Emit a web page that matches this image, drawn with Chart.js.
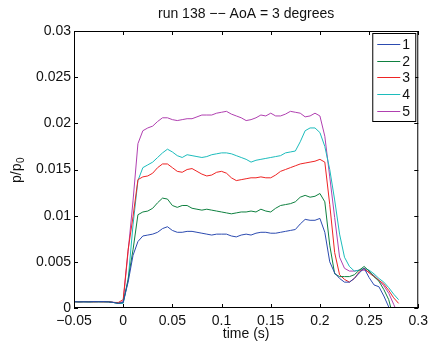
<!DOCTYPE html>
<html>
<head>
<meta charset="utf-8">
<script src="https://cdn.jsdelivr.net/npm/chart.js@4"></script>
<style>
  html, body { margin: 0; padding: 0; background: #fff; }
  #wrap { width: 433px; height: 347px; position: relative; }
</style>
</head>
<body>
<div id="wrap"><canvas id="chart"></canvas></div>
<script>
const times = [
  -0.05, -0.045, -0.04, -0.035, -0.03, -0.025, -0.02, -0.015, -0.01, -0.005,
  0, 0.005, 0.01,
  0.015, 0.02, 0.025, 0.03, 0.035, 0.04, 0.045, 0.05, 0.055, 0.06,
  0.065, 0.07, 0.075, 0.08, 0.085, 0.09, 0.095, 0.1, 0.105, 0.11,
  0.115, 0.12, 0.125, 0.13, 0.135, 0.14, 0.145, 0.15, 0.155, 0.16,
  0.165, 0.17, 0.175, 0.18, 0.185, 0.19, 0.195, 0.2,
  0.205, 0.21, 0.215, 0.22, 0.225, 0.23, 0.235, 0.24, 0.245, 0.25,
  0.255, 0.26, 0.265, 0.27, 0.275, 0.28
];

const s1 = [
  0.0007, 0.00066, 0.00068, 0.00066, 0.0007, 0.00068, 0.0007, 0.00066, 0.0006, 0.0005,
  0.0006, 0.0028, 0.0057,
  0.0072, 0.0078, 0.0079, 0.0080, 0.0082, 0.0086, 0.0088, 0.0084, 0.0082, 0.0082,
  0.0083, 0.0083, 0.0082, 0.0081, 0.0080, 0.0079, 0.0080, 0.0080, 0.0080, 0.0078,
  0.0077, 0.0079, 0.0080, 0.0079, 0.0081, 0.0082, 0.0082, 0.0081, 0.0081, 0.0082,
  0.0083, 0.0084, 0.0085, 0.0091, 0.0096, 0.0095, 0.0095, 0.0097,
  0.0082, 0.0050, 0.0038, 0.0032, 0.0028, 0.0028, 0.0032, 0.0038, 0.0043, 0.0033,
  0.0025, 0.0023, 0.0013, 0.0001, -0.0015, -0.003
];
const s2 = [
  0.00068, 0.00066, 0.00068, 0.00066, 0.00068, 0.00068, 0.00068, 0.00066, 0.0006, 0.0005,
  0.0006, 0.0031, 0.0063,
  0.0101, 0.0104, 0.0105, 0.0108, 0.0114, 0.0119, 0.0118, 0.0111, 0.0109, 0.0111,
  0.0111, 0.0108, 0.0107, 0.0106, 0.0107, 0.0106, 0.0105, 0.0104, 0.0103, 0.0102,
  0.0103, 0.0104, 0.0104, 0.0105, 0.0104, 0.0107, 0.0105, 0.0104, 0.0108, 0.0111,
  0.0112, 0.0113, 0.0115, 0.0120, 0.0122, 0.0120, 0.0121, 0.0124,
  0.0115, 0.0068, 0.0037, 0.0034, 0.0034, 0.0034, 0.0036, 0.0041, 0.0045, 0.0040,
  0.0034, 0.0029, 0.0020, 0.0009, -0.0012, -0.003
];
const s3 = [
  0.00068, 0.00066, 0.00068, 0.00068, 0.00066, 0.00068, 0.00066, 0.00068, 0.0006, 0.0006,
  0.0009, 0.0063, 0.0099,
  0.0139, 0.0142, 0.0143, 0.0146, 0.0152, 0.0156, 0.0156, 0.0152, 0.0148, 0.0147,
  0.0150, 0.0151, 0.0148, 0.0145, 0.0143, 0.0144, 0.0147, 0.0148, 0.0146, 0.0141,
  0.0138, 0.0139, 0.0140, 0.0141, 0.0141, 0.0142, 0.0141, 0.0141, 0.0144, 0.0148,
  0.0150, 0.0152, 0.0154, 0.0156, 0.0157, 0.0158, 0.0159, 0.0161,
  0.0158, 0.0112, 0.0060, 0.0036, 0.0031, 0.0028, 0.0032, 0.0039, 0.0043, 0.0038,
  0.0034, 0.0030, 0.0026, 0.0019, 0.0011, 0.0005
];
const s4 = [
  0.00066, 0.00066, 0.00066, 0.00066, 0.00066, 0.00066, 0.00066, 0.00066, 0.0006, 0.0005,
  0.0005, 0.0030, 0.0090,
  0.0138, 0.0152, 0.0155, 0.0158, 0.0163, 0.0168, 0.0172, 0.0169, 0.0165, 0.0163,
  0.0166, 0.0165, 0.0164, 0.0163, 0.0164, 0.0166, 0.0167, 0.0168, 0.0168, 0.0167,
  0.0165, 0.0163, 0.0161, 0.0158, 0.0160, 0.0161, 0.0162, 0.0163, 0.0164, 0.0165,
  0.0168, 0.0169, 0.0170, 0.0180, 0.0192, 0.0195, 0.0195, 0.0190,
  0.0175, 0.0150, 0.0117, 0.0080, 0.0055, 0.0045, 0.0040, 0.0041, 0.0043, 0.0041,
  0.0037, 0.0032, 0.0028, 0.0022, 0.0015, 0.0009
];
const s5 = [
  0.0007, 0.0007, 0.00068, 0.0007, 0.00068, 0.0007, 0.00068, 0.0007, 0.00062, 0.00055,
  0.0007, 0.0061, 0.0116,
  0.0178, 0.0192, 0.0195, 0.0197, 0.0202, 0.0206, 0.0206, 0.0204, 0.0203, 0.0204,
  0.0205, 0.0205, 0.0207, 0.0209, 0.0209, 0.0209, 0.0211, 0.0212, 0.0213, 0.0210,
  0.0208, 0.0206, 0.0203, 0.0204, 0.0206, 0.0209, 0.0208, 0.0211, 0.0208, 0.0208,
  0.0210, 0.0213, 0.0212, 0.0211, 0.0207, 0.0208, 0.0211, 0.0208,
  0.0186, 0.0142, 0.0098, 0.0055, 0.0043, 0.0040, 0.0040, 0.0041, 0.0041, 0.0039,
  0.0035, 0.0030, 0.0024, 0.0016, 0.0004, -0.0008
];

const seriesNames = ['1', '2', '3', '4', '5'];
const seriesColors = ['#2c4bb0', '#0f8040', '#ee2424', '#1cbcbc', '#b040b0'];

const xTickValues = [-0.05, 0, 0.05, 0.1, 0.15, 0.2, 0.25, 0.3];
const xTickLabels = ['\u22120.05', '0', '0.05', '0.1', '0.15', '0.2', '0.25', '0.3'];
const yTickValues = [0, 0.005, 0.01, 0.015, 0.02, 0.025, 0.03];
const yTickLabels = ['0', '0.005', '0.01', '0.015', '0.02', '0.025', '0.03'];

const titleText = 'run 138 \u2212\u2212 AoA = 3 degrees';
const xTitle = 'time (s)';

const FONT = '"Liberation Sans", Arial, Helvetica, sans-serif';
Chart.defaults.font.family = FONT;
Chart.defaults.font.size = 14;
Chart.defaults.color = '#111';

const toPoints = (vals) => vals.map((v, i) => ({ x: times[i], y: v }));

// axes box, inward ticks, titles and legend in matlab style
const matlabAxes = {
  id: 'matlabAxes',
  afterDraw(chart) {
    const { ctx, chartArea: a, scales } = chart;
    ctx.save();
    ctx.strokeStyle = '#000';
    ctx.lineWidth = 1;
    ctx.strokeRect(a.left + 0.5, a.top + 0.5, a.right - a.left - 1, a.bottom - a.top - 1);

    ctx.beginPath();
    xTickValues.forEach(v => {
      const x = Math.round(scales.x.getPixelForValue(v)) + 0.5;
      ctx.moveTo(x, a.bottom); ctx.lineTo(x, a.bottom - 4);
      ctx.moveTo(x, a.top); ctx.lineTo(x, a.top + 4);
    });
    yTickValues.forEach(v => {
      const y = Math.round(scales.y.getPixelForValue(v)) + 0.5;
      ctx.moveTo(a.left, y); ctx.lineTo(a.left + 4, y);
      ctx.moveTo(a.right, y); ctx.lineTo(a.right - 4, y);
    });
    ctx.stroke();

    const cx = (a.left + a.right) / 2;
    ctx.fillStyle = '#111';
    ctx.font = '14px ' + FONT;
    ctx.textAlign = 'center';
    ctx.textBaseline = 'alphabetic';
    ctx.fillText(titleText, cx, 17.5);
    ctx.fillText(xTitle, cx, 337.5);

    // y label p/p0, rotated
    ctx.save();
    ctx.translate(21, 183);
    ctx.rotate(-Math.PI / 2);
    ctx.textAlign = 'left';
    ctx.fillText('p/p', 0, 0);
    const w = ctx.measureText('p/p').width;
    ctx.font = '10px ' + FONT;
    ctx.fillText('0', w + 0.5, 3);
    ctx.restore();

    // legend
    const lx = a.right - 46, ly = a.top + 2, lw = 43, lh = 88;
    ctx.fillStyle = '#fff';
    ctx.fillRect(lx, ly, lw, lh);
    ctx.strokeStyle = '#000';
    ctx.strokeRect(lx + 0.5, ly + 0.5, lw, lh);
    ctx.font = '14px ' + FONT;
    ctx.textAlign = 'left';
    ctx.textBaseline = 'middle';
    chart.data.datasets.forEach((ds, i) => {
      const y = ly + 11 + i * 16.7;
      ctx.strokeStyle = ds.borderColor;
      ctx.beginPath();
      ctx.moveTo(lx + 5, Math.round(y) + 0.5);
      ctx.lineTo(lx + 28, Math.round(y) + 0.5);
      ctx.stroke();
      ctx.fillStyle = '#111';
      ctx.fillText(ds.label, lx + 30, y + 1);
    });
    ctx.restore();
  }
};

const chart = new Chart(document.getElementById('chart'), {
  type: 'line',
  data: {
    datasets: [s1, s2, s3, s4, s5].map((vals, i) => ({
      label: seriesNames[i],
      data: toPoints(vals),
      borderColor: seriesColors[i],
      borderWidth: 1,
      pointRadius: 0,
      tension: 0,
      fill: false
    }))
  },
  options: {
    responsive: true,
    maintainAspectRatio: false,
    animation: false,
    layout: { padding: { top: 31, right: 10, left: 0, bottom: 0 } },
    plugins: {
      legend: { display: false },
      title: { display: false },
      tooltip: { enabled: false }
    },
    scales: {
      x: {
        type: 'linear',
        min: -0.05,
        max: 0.3,
        grid: { display: false, drawTicks: false },
        border: { display: false },
        ticks: {
          padding: 5,
          maxRotation: 0,
          autoSkip: false,
          callback: (v, i) => xTickLabels[i]
        },
        afterBuildTicks: s => { s.ticks = xTickValues.map(v => ({ value: v })); },
        afterFit: s => { s.height = 39; }
      },
      y: {
        min: 0,
        max: 0.03,
        grid: { display: false, drawTicks: false },
        border: { display: false },
        ticks: {
          padding: 3,
          autoSkip: false,
          callback: (v, i) => yTickLabels[i]
        },
        afterBuildTicks: s => { s.ticks = yTickValues.map(v => ({ value: v })); },
        afterFit: s => { s.width = 74; }
      }
    }
  },
  plugins: [matlabAxes]
});
</script>
</body>
</html>
